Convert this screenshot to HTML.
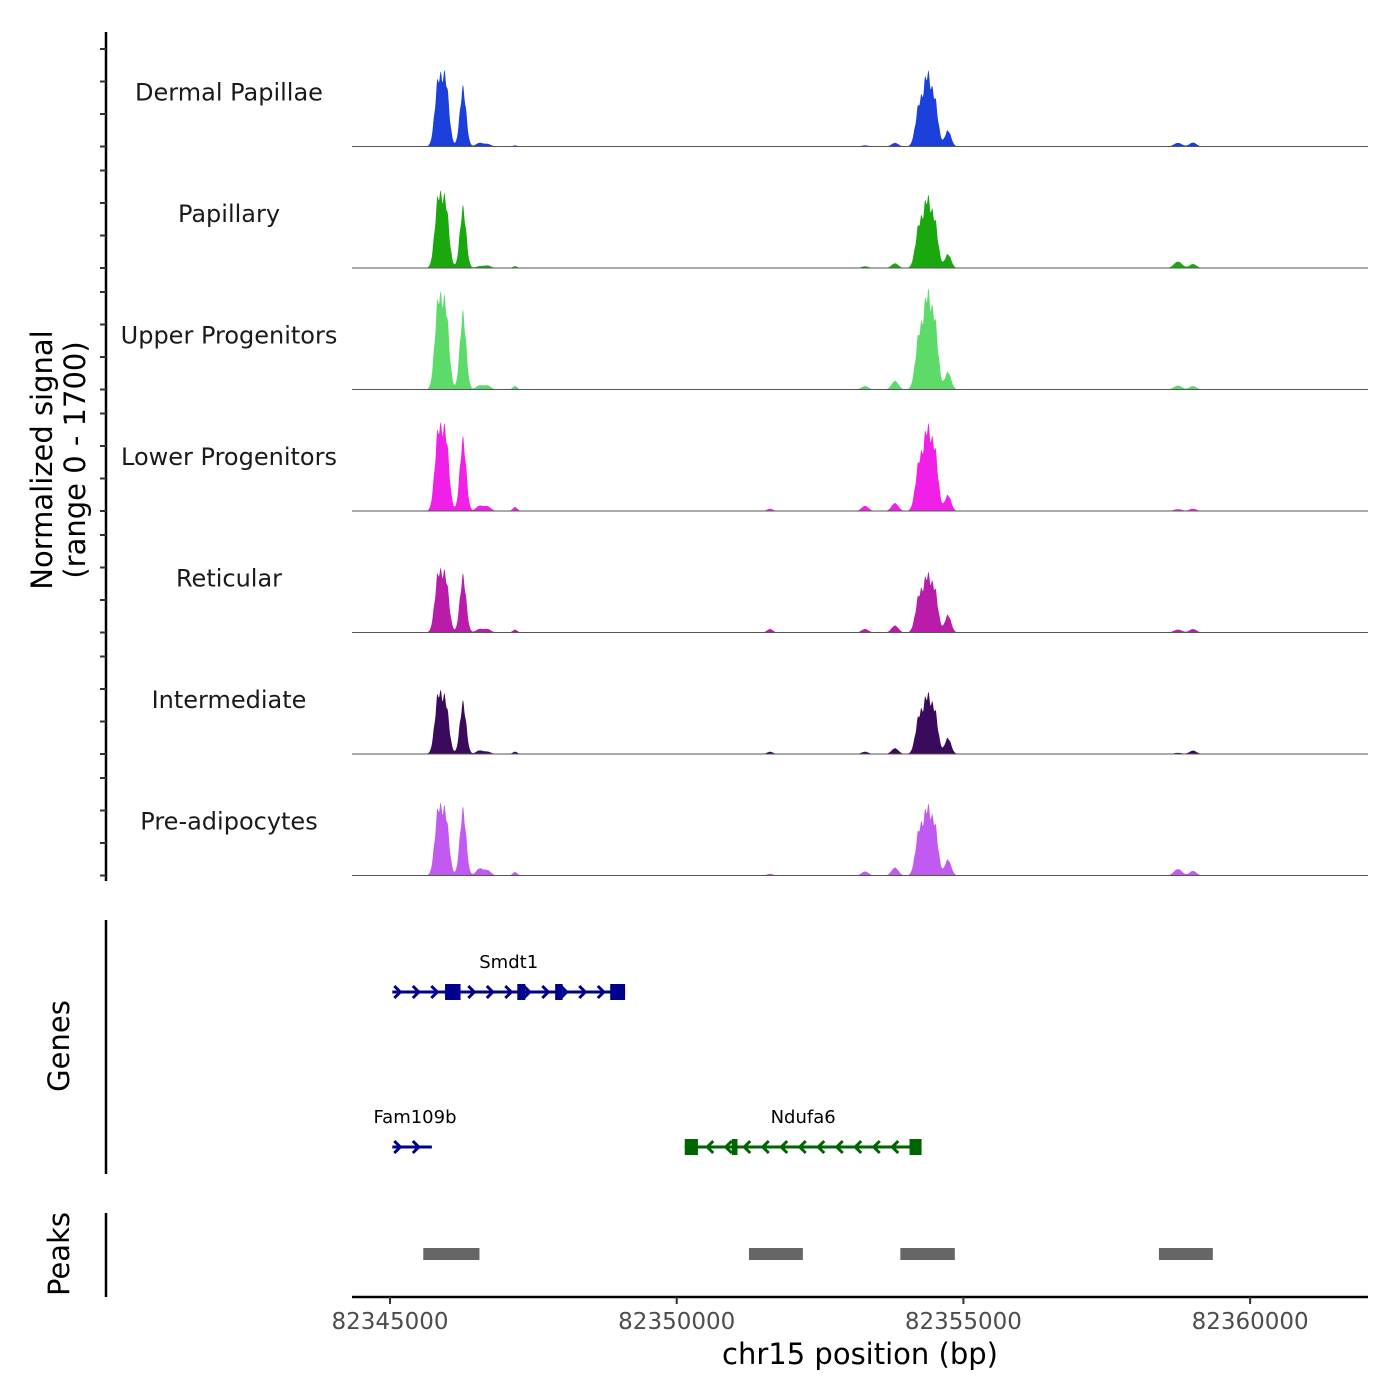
<!DOCTYPE html>
<html><head><meta charset="utf-8"><style>body{margin:0;background:#fff}svg{display:block;font-family:"DejaVu Sans","Liberation Sans",sans-serif}</style></head>
<body>
<svg id="c" width="1400" height="1400" viewBox="0 0 1400 1400" xmlns="http://www.w3.org/2000/svg"></svg>
<script>
const trackNames=["Dermal Papillae","Papillary","Upper Progenitors","Lower Progenitors","Reticular","Intermediate","Pre-adipocytes"];
const trackColors=["#1a3fdb","#1aa80e","#5cdb6b","#f020e8","#b81ca8","#3a0a5c","#c05af0"];
// peak centers (bp) and widths (bp)
const peakCenters=[82345840,82345970,82346273,82346560,82346700,82347180,82351627,82353284,82353807,82354230,82354370,82354500,82354731,82358742,82359004];
const peakWidths=[60,60,55,60,60,40,50,60,60,65,60,60,55,70,60];
// signal heights per track (0-1700 scale)
const sig0=[860,880,800,50,35,15,6,16,50,560,900,610,220,50,55];
const sig1=[920,850,820,25,35,25,4,24,65,580,860,610,190,90,55];
const sig2=[1160,1080,1040,56,56,48,4,48,120,740,1180,900,240,55,48];
const sig3=[1040,1000,980,72,64,56,32,72,110,660,1020,800,220,25,32];
const sig4=[760,720,770,48,48,40,48,48,96,500,700,560,240,40,48];
const sig5=[770,680,700,48,32,32,32,32,80,510,720,560,220,16,48];
const sig6=[860,800,900,96,72,48,24,56,110,610,830,660,220,90,64];
const signals=[sig0,sig1,sig2,sig3,sig4,sig5,sig6];
const xTicks=[82345000,82350000,82355000,82360000];
const genes=[{name:"Smdt1",start:82345040,end:82349100,row:0,strand:1,exons:[[82345960,82346230],[82347220,82347360],[82347880,82348010],[82348840,82349100]]},
{name:"Fam109b",start:82345040,end:82345730,row:1,strand:1,exons:[]},
{name:"Ndufa6",start:82350140,end:82354270,row:1,strand:-1,exons:[[82350140,82350370],[82350960,82351060],[82354060,82354270]]}];
const peaksBed=[[82345580,82346560],[82351260,82352200],[82353900,82354850],[82358410,82359350]];

const NS="http://www.w3.org/2000/svg",svg=document.getElementById('c');
const X0=352,X1=1368,BP0=82344337,BP1=82362056;
const sx=b=>X0+(b-BP0)/(BP1-BP0)*(X1-X0);
const trackH=121.5,base0=146.5,yMax=1700;
function el(t,a,p){const e=document.createElementNS(NS,t);for(const k in a)e.setAttribute(k,a[k]);(p||svg).appendChild(e);return e;}
function txt(s,a){const e=el('text',a);e.textContent=s;return e;}
let ax=el('line',{x1:106,y1:32,x2:106,y2:881,stroke:'#000','stroke-width':2.5});

for(let t=0;t<7;t++){const b=base0+t*trackH;for(let k=0;k<4;k++){const y=b-k*32.5;el('line',{x1:100,y1:y,x2:106,y2:y,stroke:'#333','stroke-width':2});}}
let yt=txt('',{transform:'translate(52,460) rotate(-90)','text-anchor':'middle','font-size':29,fill:'#000'});

el('tspan',{x:0,dy:0},yt).textContent='Normalized signal';
el('tspan',{x:0,dy:33},yt).textContent='(range 0 - 1700)';
for(let t=0;t<7;t++){
 const base=base0+t*trackH,vals=signals[t];
 const g=el('g',{});
 let d='M'+X0+','+base;
 for(let x=X0;x<=X1;x+=0.5){const bp=BP0+(x-X0)/(X1-X0)*(BP1-BP0);let v=0;
  for(let i=0;i<peakCenters.length;i++){const z=(bp-peakCenters[i])/peakWidths[i];v+=vals[i]*Math.exp(-z*z/2);}
  v*=1+0.08*Math.sin(x*1.7)*Math.min(1,v/300);
  d+=' L'+x+','+(base-Math.min(v,yMax)/yMax*trackH).toFixed(2);}
 d+=' L'+X1+','+base+'Z';
 const p=el('path',{d:d,fill:trackColors[t]},g);
 el('line',{x1:X0,y1:base,x2:X1,y2:base,stroke:'#555','stroke-width':1},g);
 const l=txt(trackNames[t],{x:229,y:base-46,'text-anchor':'middle','font-size':24,fill:'#1a1a1a'});
 
}
let ga=el('line',{x1:106,y1:920,x2:106,y2:1174,stroke:'#000','stroke-width':2.5});
let gt=txt('Genes',{transform:'translate(69,1046) rotate(-90)','text-anchor':'middle','font-size':29});
genes.forEach(gn=>{
 const y=gn.row?1147:992,c=gn.strand>0?'#00008b':'#006400',x1=sx(gn.start),x2=sx(gn.end);
 const g=el('g',{});
 el('line',{x1:x1,y1:y,x2:x2,y2:y,stroke:c,'stroke-width':3},g);
 for(let x=x1+6;x<x2-4;x+=18.5){const s=gn.strand;el('polyline',{points:`${x-4*s},${y-6} ${x+2*s},${y} ${x-4*s},${y+6}`,fill:'none',stroke:c,'stroke-width':3},g);}
 gn.exons.forEach(e=>el('rect',{x:sx(e[0]),y:y-8,width:sx(e[1])-sx(e[0]),height:16,fill:c},g));
 const lab=txt(gn.name,{x:(x1+x2)/2,y:y-24,'text-anchor':'middle','font-size':18,fill:'#000'},g);
 
 if(gn.name==='Fam109b')lab.setAttribute('x',415);
});
let pa=el('line',{x1:106,y1:1213,x2:106,y2:1297,stroke:'#000','stroke-width':2.5});
let pt=txt('Peaks',{transform:'translate(69,1254) rotate(-90)','text-anchor':'middle','font-size':29});
peaksBed.forEach(p=>{const r=el('rect',{x:sx(p[0]),y:1248,width:sx(p[1])-sx(p[0]),height:12,fill:'#666'});});
let xa=el('line',{x1:X0,y1:1297,x2:X1,y2:1297,stroke:'#000','stroke-width':2.5});
xTicks.forEach(v=>{const x=sx(v);el('line',{x1:x,y1:1297,x2:x,y2:1304,stroke:'#333','stroke-width':2});
 const l=txt(String(v),{x:x,y:1329,'text-anchor':'middle','font-size':23,fill:'#4d4d4d'});});
let xt=txt('chr15 position (bp)',{x:860,y:1364,'text-anchor':'middle','font-size':29});
</script>
</body></html>
